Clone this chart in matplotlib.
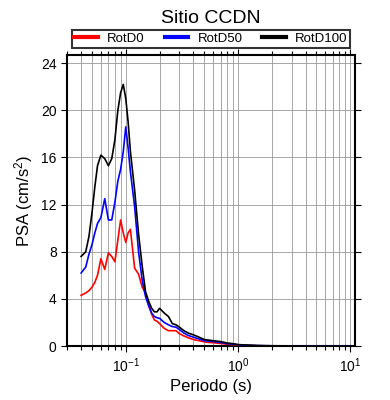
import numpy as np
import matplotlib
matplotlib.use("Agg")
from matplotlib import pyplot as plt, ticker

plt.rcParams['font.family'] = ['Liberation Sans', 'DejaVu Sans']
plt.rcParams['mathtext.fontset'] = 'custom'
plt.rcParams['mathtext.rm'] = 'Liberation Sans'
plt.rcParams['mathtext.it'] = 'Liberation Sans:italic'

# periods (s) and spectral accelerations
periods = [0.04, 0.044, 0.047, 0.05, 0.053, 0.056, 0.06, 0.065, 0.07, 0.075,
           0.08, 0.085, 0.09, 0.095, 0.1, 0.105, 0.11, 0.12, 0.13, 0.14,
           0.15, 0.16, 0.17, 0.18, 0.19, 0.2, 0.22, 0.24, 0.26, 0.28,
           0.3, 0.33, 0.36, 0.4, 0.45, 0.5, 0.55, 0.6, 0.7, 0.8,
           0.9, 1.0, 1.2, 1.5, 2.0, 3.0, 4.0, 5.0, 7.0, 10.0]
rotd0 = [4.3, 4.5, 4.7, 5.0, 5.4, 6.0, 7.4, 6.5, 7.9, 7.6,
         7.15, 9.0, 10.7, 9.6, 8.8, 9.6, 9.9, 6.6, 6.1, 5.0,
         4.5, 3.5, 2.7, 2.2, 2.1, 1.9, 1.5, 1.3, 1.3, 1.3,
         1.05, 0.85, 0.7, 0.55, 0.45, 0.35, 0.3, 0.28, 0.22, 0.15,
         0.12, 0.08, 0.05, 0.02, 0.01, 0.0, 0.0, 0.0, 0.0, 0.0]
rotd50 = [6.2, 6.7, 7.8, 8.6, 9.6, 10.4, 10.9, 12.5, 10.7, 10.7,
          12.2, 14.0, 15.0, 16.5, 18.6, 16.8, 14.8, 11.8, 8.0, 5.6,
          4.2, 3.4, 2.8, 2.5, 2.4, 2.35, 2.0, 1.8, 1.65, 1.6,
          1.4, 1.1, 0.9, 0.75, 0.6, 0.45, 0.42, 0.38, 0.3, 0.2,
          0.16, 0.1, 0.06, 0.03, 0.015, 0.01, 0.0, 0.0, 0.0, 0.0]
rotd100 = [7.6, 8.0, 9.3, 11.3, 13.5, 15.3, 16.2, 15.9, 15.3, 15.9,
           17.5, 20.0, 21.5, 22.2, 21.0, 19.0, 16.5, 13.2, 9.5, 6.8,
           4.6, 3.8, 3.2, 2.9, 2.9, 3.2, 2.8, 2.5, 1.9, 1.8,
           1.6, 1.3, 1.1, 0.95, 0.75, 0.55, 0.5, 0.45, 0.38, 0.25,
           0.2, 0.12, 0.08, 0.04, 0.02, 0.01, 0.0, 0.0, 0.0, 0.0]
labels = ["RotD0", "RotD50", "RotD100"]
line_colors = ["red", "blue", "black"]

fig = plt.figure(figsize=(3.9, 4.0), dpi=100)
ax = fig.add_axes([0.172, 0.135, 0.738, 0.7275])

for vals, lab, col in zip([rotd0, rotd50, rotd100], labels, line_colors):
    ax.plot(periods, vals, color=col, lw=1.2, label=lab, zorder=3)

ax.set_xscale('log')
ax.set_xlim(0.03, 11)
ax.set_ylim(0, 24.7)
ax.yaxis.set_major_locator(ticker.MultipleLocator(4))
ax.xaxis.set_major_locator(ticker.LogLocator(base=10, numticks=10))
ax.xaxis.set_minor_locator(ticker.LogLocator(base=10, subs=np.arange(2, 10), numticks=20))
ax.xaxis.set_minor_formatter(ticker.NullFormatter())

ax.grid(True, which='major', color='#999999', lw=0.6)
ax.grid(True, which='minor', axis='x', color='#999999', lw=0.6)
ax.set_axisbelow(True)

ax.tick_params(which='both', direction='out', top=True, right=True,
               labelsize=10, width=0.8)
ax.tick_params(which='major', length=4)
ax.tick_params(which='minor', length=3)
for sp in ax.spines.values():
    sp.set_linewidth(1.5)

ax.set_xlabel("Periodo (s)", fontsize=12, labelpad=3)
ax.set_ylabel("PSA (cm/s$^2$)", fontsize=12, labelpad=4)

leg = ax.legend(loc='lower center', bbox_to_anchor=(0.5, 1.025), ncol=3,
                frameon=True, fancybox=False, fontsize=9.5, handlelength=1.8,
                handletextpad=0.7, columnspacing=1.5, borderpad=0.2,
                borderaxespad=0)
leg.get_frame().set_edgecolor('black')
leg.get_frame().set_linewidth(1.5)
for h in leg.get_lines():
    h.set_linewidth(3)

fig.text(0.541, 0.975, "Sitio CCDN", ha='center', va='top', fontsize=14)

fig.savefig("out.png", dpi=100)
